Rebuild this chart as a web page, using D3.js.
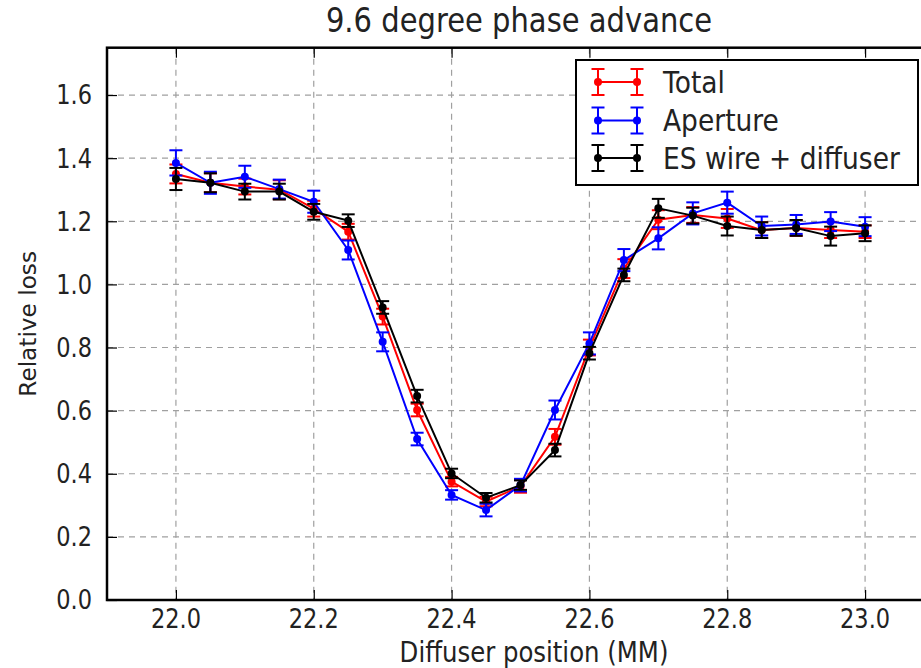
<!DOCTYPE html>
<html>
<head>
<meta charset="utf-8">
<script src="https://cdn.jsdelivr.net/npm/d3@7"></script>
<style>
  html, body { margin: 0; padding: 0; background: #fff; }
  svg { display: block; font-family: "DejaVu Sans", sans-serif; }
</style>
</head>
<body>
<svg id="chart" width="921" height="668"></svg>
<script>
const positions = [22.0, 22.05, 22.1, 22.15, 22.2, 22.25, 22.3, 22.35, 22.4, 22.45, 22.5,
                   22.55, 22.6, 22.65, 22.7, 22.75, 22.8, 22.85, 22.9, 22.95, 23.0];
const totalLoss = [1.35, 1.322, 1.31, 1.30, 1.24, 1.167, 0.898, 0.602, 0.375, 0.312, 0.36,
                   0.517, 0.80, 1.05, 1.205, 1.22, 1.209, 1.172, 1.179, 1.172, 1.167];
const totalErr  = [0.03, 0.03, 0.025, 0.03, 0.025, 0.025, 0.025, 0.02, 0.015, 0.015, 0.02,
                   0.025, 0.025, 0.03, 0.03, 0.025, 0.03, 0.025, 0.025, 0.025, 0.02];
const apertureLoss = [1.385, 1.322, 1.341, 1.302, 1.262, 1.109, 0.818, 0.51, 0.333, 0.285, 0.364,
                      0.602, 0.813, 1.077, 1.146, 1.225, 1.259, 1.185, 1.19, 1.199, 1.183];
const apertureErr  = [0.04, 0.035, 0.035, 0.03, 0.035, 0.03, 0.03, 0.02, 0.015, 0.02, 0.02,
                      0.03, 0.035, 0.035, 0.035, 0.035, 0.035, 0.03, 0.03, 0.03, 0.03];
const esLoss = [1.334, 1.322, 1.294, 1.294, 1.23, 1.202, 0.927, 0.646, 0.401, 0.324, 0.364,
                0.475, 0.782, 1.03, 1.241, 1.218, 1.185, 1.172, 1.179, 1.153, 1.162];
const esErr  = [0.035, 0.03, 0.025, 0.025, 0.025, 0.02, 0.02, 0.02, 0.015, 0.015, 0.015,
                0.02, 0.02, 0.02, 0.03, 0.025, 0.03, 0.025, 0.025, 0.03, 0.025];
const seriesNames = ["Total", "Aperture", "ES wire + diffuser"];
const seriesColors = ["#ff0000", "#0000ff", "#000000"];
const xTicks = [22.0, 22.2, 22.4, 22.6, 22.8, 23.0];
const yTicks = [0.0, 0.2, 0.4, 0.6, 0.8, 1.0, 1.2, 1.4, 1.6];
const titleText = "9.6 degree phase advance";
const xLabel = "Diffuser position (MM)";
const yLabel = "Relative loss";

const series = [
  {name: seriesNames[0], color: seriesColors[0], values: totalLoss, errs: totalErr},
  {name: seriesNames[1], color: seriesColors[1], values: apertureLoss, errs: apertureErr},
  {name: seriesNames[2], color: seriesColors[2], values: esLoss, errs: esErr}
];

const L = 107, R = 934, T = 47.7, B = 600;
const SY = 1.15; // vertical stretch of text glyphs as seen in the reference
const svg = d3.select("#chart");
const x = d3.scaleLinear().domain([21.9, 23.1]).range([L, R]);
const y = d3.scaleLinear().domain([0, 1.75]).range([B, T]);
const fmt = d3.format(".1f");

function stretchedText(parent, px, py, str, size, anchor) {
  return parent.append("text")
    .attr("transform", `translate(${px},${py}) scale(1,${SY})`)
    .attr("text-anchor", anchor || "start")
    .attr("font-size", size).attr("fill", "#222").text(str);
}

// grid
const grid = svg.append("g");
grid.selectAll("line.gx").data(xTicks).enter().append("line")
  .attr("x1", d => x(d)).attr("x2", d => x(d)).attr("y1", T).attr("y2", B)
  .attr("stroke", "#a0a0a0").attr("stroke-width", 1.2).attr("stroke-dasharray", "6,5");
grid.selectAll("line.gy").data(yTicks).enter().append("line")
  .attr("x1", L).attr("x2", R).attr("y1", d => y(d)).attr("y2", d => y(d))
  .attr("stroke", "#a0a0a0").attr("stroke-width", 1.2).attr("stroke-dasharray", "6,5");

// axes with inward ticks (labels drawn separately)
const axB = svg.append("g").attr("transform", `translate(0,${B})`)
  .call(d3.axisBottom(x).tickValues(xTicks).tickFormat("").tickSizeInner(-10).tickSizeOuter(0));
const axT = svg.append("g").attr("transform", `translate(0,${T})`)
  .call(d3.axisTop(x).tickValues(xTicks).tickFormat("").tickSizeInner(-10).tickSizeOuter(0));
const axL = svg.append("g").attr("transform", `translate(${L},0)`)
  .call(d3.axisLeft(y).tickValues(yTicks).tickFormat("").tickSizeInner(-10).tickSizeOuter(0));
const axR = svg.append("g").attr("transform", `translate(${R},0)`)
  .call(d3.axisRight(y).tickValues(yTicks).tickFormat("").tickSizeInner(-10).tickSizeOuter(0));
[axB, axT, axL, axR].forEach(a => {
  a.select(".domain").remove();
  a.selectAll(".tick line").attr("stroke", "#000").attr("stroke-width", 1.2);
});
const tl = svg.append("g");
xTicks.forEach(t => stretchedText(tl, x(t), 628, fmt(t), 22.5, "middle"));
yTicks.forEach(t => stretchedText(tl, 92, y(t) + 9.4, fmt(t), 22.5, "end"));

// series
const line = d3.line().x((d, i) => x(positions[i])).y(d => y(d));
const capW = 6.5;
series.forEach(s => {
  const g = svg.append("g");
  g.append("path").attr("d", line(s.values)).attr("fill", "none")
    .attr("stroke", s.color).attr("stroke-width", 2);
  const eb = g.selectAll("g.eb").data(s.values).enter().append("g");
  eb.append("line")
    .attr("x1", (d, i) => x(positions[i])).attr("x2", (d, i) => x(positions[i]))
    .attr("y1", (d, i) => y(d - s.errs[i])).attr("y2", (d, i) => y(d + s.errs[i]))
    .attr("stroke", s.color).attr("stroke-width", 2);
  eb.append("line")
    .attr("x1", (d, i) => x(positions[i]) - capW).attr("x2", (d, i) => x(positions[i]) + capW)
    .attr("y1", (d, i) => y(d - s.errs[i])).attr("y2", (d, i) => y(d - s.errs[i]))
    .attr("stroke", s.color).attr("stroke-width", 2);
  eb.append("line")
    .attr("x1", (d, i) => x(positions[i]) - capW).attr("x2", (d, i) => x(positions[i]) + capW)
    .attr("y1", (d, i) => y(d + s.errs[i])).attr("y2", (d, i) => y(d + s.errs[i]))
    .attr("stroke", s.color).attr("stroke-width", 2);
  eb.append("circle")
    .attr("cx", (d, i) => x(positions[i])).attr("cy", d => y(d)).attr("r", 4)
    .attr("fill", s.color);
});

// frame
svg.append("rect").attr("x", L).attr("y", T).attr("width", R - L).attr("height", B - T)
  .attr("fill", "none").attr("stroke", "#000").attr("stroke-width", 2.5);

// legend
const lg = svg.append("g");
lg.append("rect").attr("x", 576).attr("y", 60).attr("width", 342).attr("height", 125)
  .attr("fill", "#fff").attr("stroke", "#000").attr("stroke-width", 2);
const rowY = [82, 120.5, 158];
series.forEach((s, k) => {
  const cy = rowY[k], x1 = 598, x2 = 637;
  lg.append("line").attr("x1", x1).attr("x2", x2).attr("y1", cy).attr("y2", cy)
    .attr("stroke", s.color).attr("stroke-width", 2);
  [x1, x2].forEach(xx => {
    lg.append("line").attr("x1", xx).attr("x2", xx).attr("y1", cy - 13).attr("y2", cy + 13)
      .attr("stroke", s.color).attr("stroke-width", 2);
    lg.append("line").attr("x1", xx - capW).attr("x2", xx + capW).attr("y1", cy - 13).attr("y2", cy - 13)
      .attr("stroke", s.color).attr("stroke-width", 2);
    lg.append("line").attr("x1", xx - capW).attr("x2", xx + capW).attr("y1", cy + 13).attr("y2", cy + 13)
      .attr("stroke", s.color).attr("stroke-width", 2);
    lg.append("circle").attr("cx", xx).attr("cy", cy).attr("r", 4).attr("fill", s.color);
  });
  stretchedText(lg, 663, cy + 10.5, s.name, 26.5, "start");
});

// title and labels
stretchedText(svg, 519, 32, titleText, 29, "middle");
stretchedText(svg, 534, 662, xLabel, 24.4, "middle");
svg.append("text").attr("transform", `translate(36,${(T + B) / 2}) rotate(-90)`)
  .attr("text-anchor", "middle").attr("font-size", 23.2).attr("fill", "#222").text(yLabel);
</script>
</body>
</html>
